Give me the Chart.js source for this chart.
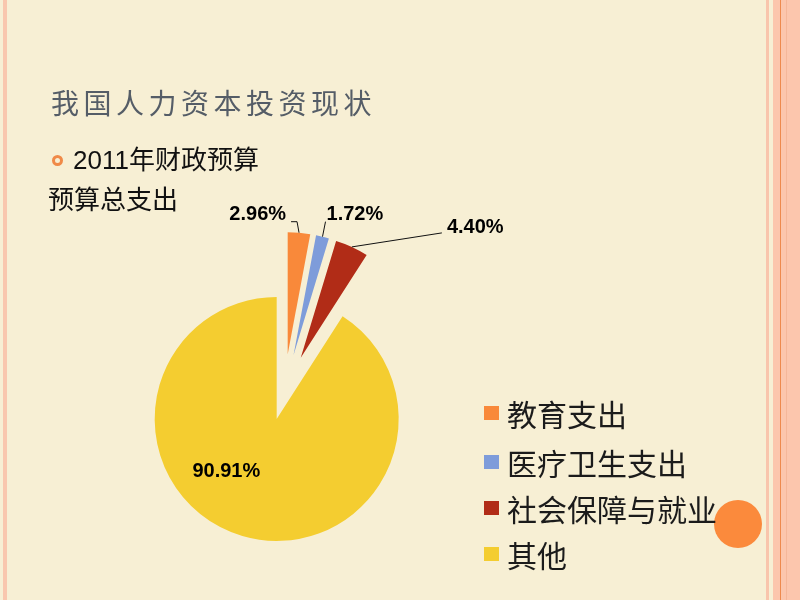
<!DOCTYPE html>
<html>
<head>
<meta charset="utf-8">
<script src="https://cdn.jsdelivr.net/npm/chart.js@4/dist/chart.umd.min.js"></script>
<style>
  html, body { margin: 0; padding: 0; }
  body { width: 800px; height: 600px; overflow: hidden; position: relative; background: #F7EFD4;
         font-family: "Liberation Sans", "Noto Sans CJK SC", sans-serif; }
  .abs { position: absolute; }
  #chart { position: absolute; left: 0; top: 0; }
  #title { left: 51px; top: 88px; font-family: "Noto Sans CJK SC", sans-serif; font-size: 28px; line-height: 28px;
           letter-spacing: 4.5px; color: #555D67; white-space: nowrap; }
  #sub1 { left: 73px; top: 147px; font-size: 26px; line-height: 26px; color: #111; white-space: nowrap; }
  #sub2 { left: 48px; top: 185px; font-family: "Noto Sans CJK SC", sans-serif; font-size: 26px; line-height: 26px; color: #111; white-space: nowrap; }
  #ring { left: 51.5px; top: 154.5px; width: 5px; height: 5px; border: 3px solid #F08A48; border-radius: 50%; }
  #legend { left: 484px; top: 0; }
  .item { position: absolute; left: 0; white-space: nowrap; height: 30px; }
  .box { position: absolute; left: 0; top: 8px; width: 15px; height: 14px; }
  .txt { position: absolute; left: 23px; top: 0; font-family: "Noto Sans CJK SC", sans-serif; font-size: 30px; line-height: 30px; color: #1b1b1b; }
  #dot { left: 714px; top: 500px; width: 48px; height: 48px; border-radius: 50%; background: #FB8A3C; }
</style>
</head>
<body>
<!-- slide frame stripes -->
<div class="abs" style="left:3px;top:0;width:4px;height:600px;background:#F9C7AE"></div>
<div class="abs" style="left:766px;top:0;width:3px;height:600px;background:#F9C5AC"></div>
<div class="abs" style="left:773px;top:0;width:27px;height:600px;background:#FCC6AD"></div>
<div class="abs" style="left:780px;top:0;width:1px;height:600px;background:#EE8A4E"></div>
<div class="abs" style="left:786px;top:0;width:1px;height:600px;background:#F5B79A"></div>

<div id="dot" class="abs"></div>
<canvas id="chart" width="800" height="600"></canvas>

<div id="title" class="abs">我国人力资本投资现状</div>
<div id="ring" class="abs"></div>
<div id="sub1" class="abs">2011年财政预算</div>
<div id="sub2" class="abs">预算总支出</div>
<div id="legend" class="abs"></div>

<script>
// ---- data ----
const categories = ["教育支出", "医疗卫生支出", "社会保障与就业", "其他"];
const shares = [2.96, 1.72, 4.40, 90.91];

// ---- styles ----
const sliceColors = ["#F9893A", "#7E9CDA", "#B12C17", "#F4CD30"];
const explodeDist = [40, 40, 40, 26];   // px each slice is pulled out from the centre
// label placement relative to each slice's outer mid point
const labelDx = [-13, 4, 95, -16];
const labelDy = [-18, -22, -19, -65];
const labelAlign = ["right", "left", "left", "center"];
const leaderPts = [
  [[0, 0], [-2, -11], [-8, -11]],
  [[0, 0], [3, -15]],
  [[0, 0], [90, -14]],
  []
];
const legendTops = [398, 447, 493, 539];

// legend (HTML, built from arrays)
const legend = document.getElementById('legend');
categories.forEach((c, i) => {
  const it = document.createElement('div');
  it.className = 'item';
  it.style.top = legendTops[i] + 'px';
  it.innerHTML = '<div class="box" style="background:' + sliceColors[i] + '"></div><div class="txt">' + c + '</div>';
  legend.appendChild(it);
});

function arcShift(arc, i) {
  const mid = (arc.startAngle + arc.endAngle) / 2;
  return { dx: Math.cos(mid) * explodeDist[i], dy: Math.sin(mid) * explodeDist[i], mid };
}

const explodePlugin = {
  id: 'explodedPie',
  beforeDatasetDraw(chart, args) {
    const ctx = chart.ctx;
    args.meta.data.forEach((arc, i) => {
      const s = arcShift(arc, i);
      ctx.save();
      ctx.translate(s.dx, s.dy);
      arc.draw(ctx);
      ctx.restore();
    });
    return false;
  },
  afterDatasetsDraw(chart) {
    const ctx = chart.ctx;
    const meta = chart.getDatasetMeta(0);
    ctx.save();
    meta.data.forEach((arc, i) => {
      const s = arcShift(arc, i);
      const mx = arc.x + s.dx + Math.cos(s.mid) * arc.outerRadius;
      const my = arc.y + s.dy + Math.sin(s.mid) * arc.outerRadius;
      const pts = leaderPts[i];
      if (pts.length) {
        ctx.beginPath();
        ctx.strokeStyle = '#111';
        ctx.lineWidth = 1;
        pts.forEach((q, k) => {
          if (k === 0) ctx.moveTo(mx + q[0], my + q[1]); else ctx.lineTo(mx + q[0], my + q[1]);
        });
        ctx.stroke();
      }
      ctx.fillStyle = '#000';
      ctx.font = 'bold 20px "Liberation Sans", Arial, sans-serif';
      ctx.textAlign = labelAlign[i];
      ctx.textBaseline = 'middle';
      ctx.fillText(shares[i].toFixed(2) + '%', mx + labelDx[i], my + labelDy[i]);
    });
    ctx.restore();
  }
};

new Chart(document.getElementById('chart'), {
  type: 'pie',
  data: {
    labels: categories,
    datasets: [{
      data: shares,
      backgroundColor: sliceColors,
      borderWidth: 0,
      offset: 0,
      hoverOffset: 0
    }]
  },
  options: {
    responsive: false,
    animation: false,
    radius: 122,
    layout: { padding: { left: 10, right: 242, top: 200, bottom: 12 } },
    plugins: { legend: { display: false }, tooltip: { enabled: false }, title: { display: false } }
  },
  plugins: [explodePlugin]
});
</script>
</body>
</html>
